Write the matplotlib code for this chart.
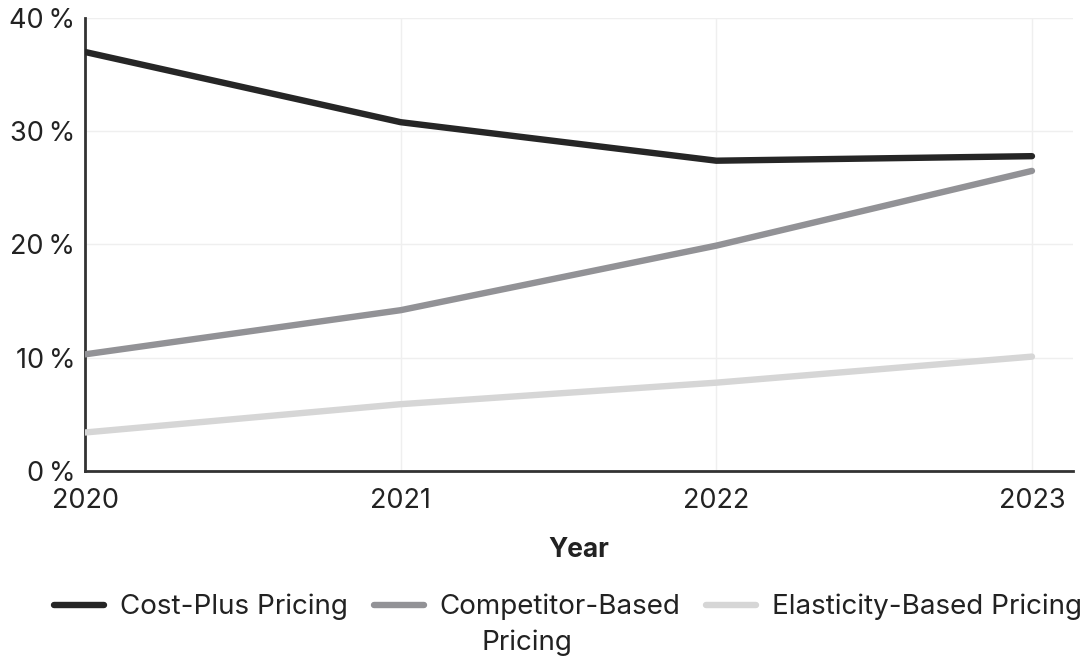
import matplotlib
matplotlib.use("Agg")
import matplotlib.pyplot as plt
from matplotlib.ticker import FuncFormatter

plt.rcParams['font.family'] = ['Inter', 'DejaVu Sans']

years = [2020, 2021, 2022, 2023]
series_names = ["Cost-Plus Pricing", "Competitor-Based Pricing", "Elasticity-Based Pricing"]
cost_plus = [37.0, 30.8, 27.4, 27.8]
competitor = [10.3, 14.2, 19.9, 26.5]
elasticity = [3.4, 5.9, 7.8, 10.1]
y_ticks = [0, 10, 20, 30, 40]

colors = ["#262626", "#929296", "#d6d6d6"]
W, H = 1084, 664

fig = plt.figure(figsize=(W / 100, H / 100), dpi=100)
ax = fig.add_axes([85 / W, (H - 471) / H, (1073 - 85) / W, (471 - 18) / H])

handles = []
for vals, name, c in zip([cost_plus, competitor, elasticity], series_names, colors):
    ln, = ax.plot(years, vals, color=c, lw=4.6, label=name, solid_capstyle='round',
                  solid_joinstyle='round', zorder=3)
    handles.append(ln)

ax.set_xlim(2020, 2023.13)
ax.set_ylim(0, 40)
ax.set_xticks(years)
ax.set_xticklabels([str(y) for y in years])
ax.set_yticks(y_ticks)
ax.yaxis.set_major_formatter(FuncFormatter(lambda v, p: f"{int(v)}\u2009%"))

ax.grid(True, color="#efefef", lw=1.0, zorder=0)
for s in ["top", "right"]:
    ax.spines[s].set_visible(False)
for s in ["left", "bottom"]:
    ax.spines[s].set_color("#333333")
    ax.spines[s].set_linewidth(2.0)

ax.tick_params(axis='both', length=0, labelsize=19.5, colors="#222222")
ax.tick_params(axis='y', pad=7)
ax.tick_params(axis='x', pad=12)

ax.set_xlabel("Year", fontsize=19, fontweight='bold', color="#222222", labelpad=17)

# Legend: the long middle label wraps onto a second line in the reference
wrapped = ["Cost-Plus Pricing", "Competitor-Based", "Elasticity-Based Pricing"]
leg = fig.legend(handles, wrapped, loc='center', bbox_to_anchor=(568 / W, 1 - 607 / H), ncol=3,
                 frameon=False, fontsize=20, handlelength=1.8, handletextpad=0.55,
                 columnspacing=0.95, borderpad=0, borderaxespad=0)
for t in leg.get_texts():
    t.set_color("#222222")

fig.canvas.draw()
r = fig.canvas.get_renderer()
tb = leg.get_texts()[1].get_window_extent(r)
hb = leg.legend_handles[1].get_window_extent(r)
cx = (hb.x0 + tb.x1) / 2 / W
fig.text(cx, 1 - 643 / H, "Pricing", ha='center', va='center', fontsize=20, color="#222222")

fig.savefig("out.png", dpi=100, facecolor="white")
